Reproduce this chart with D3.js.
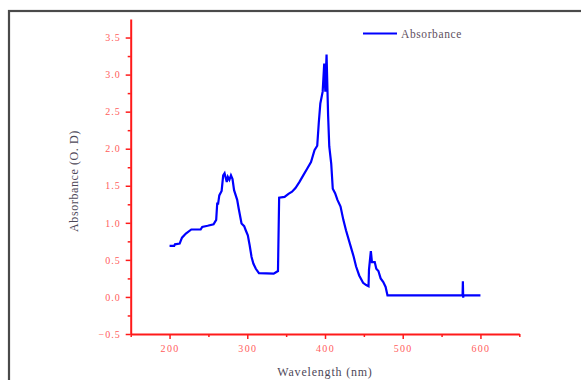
<!DOCTYPE html>
<html>
<head>
<meta charset="utf-8">
<script src="https://cdn.jsdelivr.net/npm/d3@7"></script>
<style>
  body { margin: 0; background: #fff; }
  svg { display: block; }
  .tick text { font-family: "Liberation Serif", "DejaVu Serif", serif; }
</style>
</head>
<body>
<div id="chart"></div>
<script>
// wavelength (nm) vs absorbance
const wavelength = [200, 206, 207, 213, 216, 221, 228, 240, 242, 249, 256.6, 260, 261.3, 262.5, 264, 267, 269, 270.8,
  273.6, 275, 277, 279, 281, 283, 287, 289, 292.6, 296, 298, 300.7, 303, 305.5, 307.8, 311, 315, 334, 339.5,
  341, 348, 353, 357.6, 362, 367, 372, 377, 382, 386.5, 390, 392, 394, 397, 399, 400.4, 402, 404, 405.5, 408,
  410, 413, 416, 420, 423.6, 427, 432, 437, 440, 444, 449, 453, 456, 456.6, 459, 460.4, 464, 466, 468.7, 471.6,
  475, 478, 480.4, 577, 577.4, 577.8, 578.2, 600];
const absorbance = [0.69, 0.69, 0.71, 0.72, 0.80, 0.855, 0.91, 0.91, 0.945, 0.96, 0.98, 1.04, 1.26, 1.26, 1.37, 1.43,
  1.64, 1.67, 1.55, 1.62, 1.58, 1.64, 1.59, 1.44, 1.31, 1.19, 0.99, 0.955, 0.9, 0.83, 0.70, 0.54, 0.45, 0.38,
  0.32, 0.315, 0.35, 1.34, 1.35, 1.39, 1.42, 1.47, 1.55, 1.64, 1.73, 1.82, 1.98, 2.04, 2.35, 2.61, 2.77, 3.15,
  2.77, 3.27, 2.45, 2.03, 1.80, 1.46, 1.40, 1.31, 1.22, 1.04, 0.90, 0.72, 0.54, 0.41, 0.29, 0.19, 0.16, 0.145,
  0.37, 0.62, 0.47, 0.47, 0.38, 0.35, 0.25, 0.20, 0.135, 0.02, 0.02, 0.21, -0.01, 0.02, 0.02];

const xMajor = [200, 300, 400, 500, 600];
const xMinor = [150, 250, 350, 450, 550, 650];
const yMajor = [-0.5, 0.0, 0.5, 1.0, 1.5, 2.0, 2.5, 3.0, 3.5];
const yMinor = [-0.25, 0.25, 0.75, 1.25, 1.75, 2.25, 2.75, 3.25];

const W = 581, H = 380;
const plotLeft = 130.7, plotRight = 519.3, plotTop = 19, plotBottom = 334;

const svg = d3.select("#chart").append("svg")
  .attr("width", W)
  .attr("height", H);

// outer frame
svg.append("rect")
  .attr("x", 9).attr("y", 11)
  .attr("width", 600).attr("height", 400)
  .attr("fill", "none")
  .attr("stroke", "#4a4a4a")
  .attr("stroke-width", 2.2);

let x = d3.scaleLinear().domain([150, 650]).range([plotLeft, plotRight]);
let y = d3.scaleLinear().domain([-0.5, 3.75]).range([plotBottom, plotTop]);

const red = "#ff1a1a";
const labelRed = "#ff5c5c";

// x axis
const xAxis = svg.append("g")
  .attr("transform", "translate(0," + plotBottom + ")")
  .call(d3.axisBottom(x).tickValues(xMajor).tickSize(5).tickSizeOuter(0).tickPadding(6)
    .tickFormat(d3.format("d")));
xAxis.select(".domain").attr("stroke", red).attr("stroke-width", 2);
xAxis.selectAll(".tick line").attr("stroke", red).attr("stroke-width", 1.5);
xAxis.selectAll(".tick text").attr("fill", labelRed).attr("font-size", 10).attr("letter-spacing", 1.3);

svg.append("g")
  .attr("transform", "translate(0," + plotBottom + ")")
  .call(d3.axisBottom(x).tickValues(xMinor).tickSize(3).tickFormat(""))
  .call(g => g.select(".domain").remove())
  .selectAll(".tick line").attr("stroke", red).attr("stroke-width", 1.5);

// y axis
const yAxis = svg.append("g")
  .attr("transform", "translate(" + plotLeft + ",0)")
  .call(d3.axisLeft(y).tickValues(yMajor).tickSize(5).tickSizeOuter(0).tickPadding(5)
    .tickFormat(d3.format(".1f")));
yAxis.select(".domain").attr("stroke", red).attr("stroke-width", 2);
yAxis.selectAll(".tick line").attr("stroke", red).attr("stroke-width", 1.5);
yAxis.selectAll(".tick text").attr("fill", labelRed).attr("font-size", 10).attr("letter-spacing", 1);

svg.append("g")
  .attr("transform", "translate(" + plotLeft + ",0)")
  .call(d3.axisLeft(y).tickValues(yMinor).tickSize(3).tickFormat(""))
  .call(g => g.select(".domain").remove())
  .selectAll(".tick line").attr("stroke", red).attr("stroke-width", 1.5);

// axis titles
svg.append("text")
  .attr("x", 325).attr("y", 376)
  .attr("text-anchor", "middle")
  .attr("font-family", "Liberation Serif, serif")
  .attr("font-size", 12)
  .attr("letter-spacing", 0.8)
  .attr("fill", "#4e4858")
  .text("Wavelength (nm)");

svg.append("text")
  .attr("transform", "translate(78,181) rotate(-90)")
  .attr("text-anchor", "middle")
  .attr("font-family", "Liberation Serif, serif")
  .attr("font-size", 12)
  .attr("letter-spacing", 0.6)
  .attr("fill", "#4e4858")
  .text("Absorbance (O. D)");

// the curve
const data = wavelength.map((w, i) => ({ w: w, a: absorbance[i] }));
const valueline = d3.line()
  .x(d => x(d.w))
  .y(d => y(d.a));

svg.append("path")
  .datum(data)
  .attr("fill", "none")
  .attr("stroke", "#0000ff")
  .attr("stroke-width", 2.2)
  .attr("stroke-linejoin", "miter")
  .attr("d", valueline);

// legend
svg.append("line")
  .attr("x1", 363).attr("x2", 397)
  .attr("y1", 33.5).attr("y2", 33.5)
  .attr("stroke", "#0000ff")
  .attr("stroke-width", 2.2);
svg.append("text")
  .attr("x", 401).attr("y", 37.5)
  .attr("font-family", "Liberation Serif, serif")
  .attr("font-size", 11.5)
  .attr("letter-spacing", 0.6)
  .attr("fill", "#5e5060")
  .text("Absorbance");
</script>
</body>
</html>
